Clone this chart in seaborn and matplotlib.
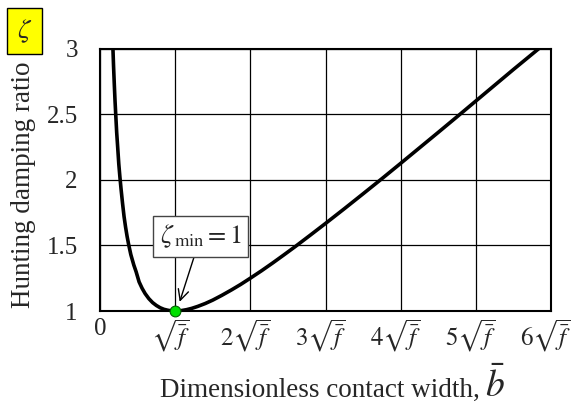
import matplotlib
matplotlib.use("Agg")
import matplotlib.pyplot as plt
import matplotlib.transforms as mtrans
import seaborn as sns
import pandas as pd

# Data (x in units of sqrt(f_bar))
b_over_sqrtf = [0.172, 0.18, 0.19, 0.20, 0.21, 0.222, 0.235, 0.25, 0.265, 0.28, 0.30,
                0.32, 0.34, 0.36, 0.38, 0.41, 0.45, 0.48, 0.52, 0.56, 0.60, 0.65,
                0.70, 0.75, 0.80, 0.85, 0.90, 0.95, 1.0, 1.07, 1.15, 1.22, 1.3, 1.4,
                1.5, 1.62, 1.75, 1.87, 2.0, 2.15, 2.3, 2.45, 2.6, 2.8, 3.0, 3.25,
                3.5, 3.75, 4.0, 4.25, 4.5, 4.75, 5.0, 5.25, 5.5, 5.84]
zeta = [3.0, 2.87, 2.73, 2.6, 2.49, 2.36, 2.25, 2.12, 2.02, 1.93, 1.82,
        1.72, 1.64, 1.57, 1.51, 1.43, 1.35, 1.3, 1.222, 1.173, 1.133, 1.094,
        1.064, 1.042, 1.025, 1.013, 1.006, 1.001, 1.0, 1.002, 1.01, 1.02, 1.035, 1.057,
        1.083, 1.119, 1.161, 1.202, 1.25, 1.307, 1.367, 1.429, 1.492, 1.579, 1.667, 1.779,
        1.893, 2.008, 2.125, 2.243, 2.361, 2.48, 2.6, 2.72, 2.84, 3.0]
min_x = [1.0]
min_zeta = [1.0]
x_ticks = [0, 1, 2, 3, 4, 5, 6]
x_tick_labels = ["0", r"$\sqrt{\bar{f}}$", r"$2\sqrt{\bar{f}}$", r"$3\sqrt{\bar{f}}$",
                 r"$4\sqrt{\bar{f}}$", r"$5\sqrt{\bar{f}}$", r"$6\sqrt{\bar{f}}$"]
y_ticks = [1, 1.5, 2, 2.5, 3]
y_tick_labels = ["1", "1.5", "2", "2.5", "3"]

sns.set_theme(style="white")
plt.rcParams["font.family"] = ["Liberation Serif", "DejaVu Serif"]
plt.rcParams["mathtext.fontset"] = "stix"

df = pd.DataFrame({"x": b_over_sqrtf, "z": zeta})
dmin = pd.DataFrame({"x": min_x, "z": min_zeta})

W, H = 571, 405
fig = plt.figure(figsize=(W / 100, H / 100), dpi=100)
ax = fig.add_axes([100 / W, 94 / H, 451 / W, 262.5 / H])

sns.lineplot(data=df, x="x", y="z", ax=ax, color="black", linewidth=2.6, sort=False,
             zorder=3, solid_joinstyle="round", solid_capstyle="round")
sns.scatterplot(data=dmin, x="x", y="z", ax=ax, color="#00e000", edgecolor="#006000",
                s=60, linewidth=0.8, zorder=5)
for c in ax.collections:
    c.set_clip_on(False)

ax.set_xlim(0, 6)
ax.set_ylim(1, 3)
ax.set_xticks(x_ticks)
ax.set_xticklabels(x_tick_labels, fontsize=18)
ax.set_yticks(y_ticks)
ax.set_yticklabels(y_tick_labels, fontsize=18)
ax.tick_params(axis="y", length=0, pad=16)
ax.tick_params(axis="x", length=0, pad=5)
shift = mtrans.ScaledTranslation(-5 / 100, 0, fig.dpi_scale_trans)
for lbl in ax.get_xticklabels()[1:]:
    lbl.set_transform(lbl.get_transform() + shift)
ax.grid(True, color="black", linewidth=0.9)
ax.set_axisbelow(True)
for s in ax.spines.values():
    s.set_color("black")
    s.set_linewidth(1.5)
ax.set_xlabel("")
ax.set_ylabel("")

ax.annotate(r"$\zeta_{\,\mathrm{min}}=1$", xy=(1.06, 1.07), xytext=(1.34, 1.57),
            fontsize=19, ha="center", va="center",
            bbox=dict(boxstyle="square,pad=0.25", facecolor="white", edgecolor="#444444", linewidth=1),
            arrowprops=dict(arrowstyle="->", color="black", linewidth=1, shrinkA=0, shrinkB=0),
            zorder=6)

fig.text(24 / W, 1 - 185 / H, "Hunting damping ratio", rotation=90, fontsize=19.5,
         ha="center", va="center")
fig.text(480 / W, 1 - 397 / H, "Dimensionless contact width,", fontsize=19.5,
         ha="right", va="baseline")
fig.text(485 / W, 1 - 397 / H, r"$\bar{b}$", fontsize=27, ha="left", va="baseline")
fig.text(24.5 / W, 1 - 31 / H, r"$\zeta$", fontsize=20, ha="center", va="center",
         bbox=dict(boxstyle="square,pad=0.35", facecolor="yellow", edgecolor="black", linewidth=1))

fig.savefig("out.png", dpi=100)
